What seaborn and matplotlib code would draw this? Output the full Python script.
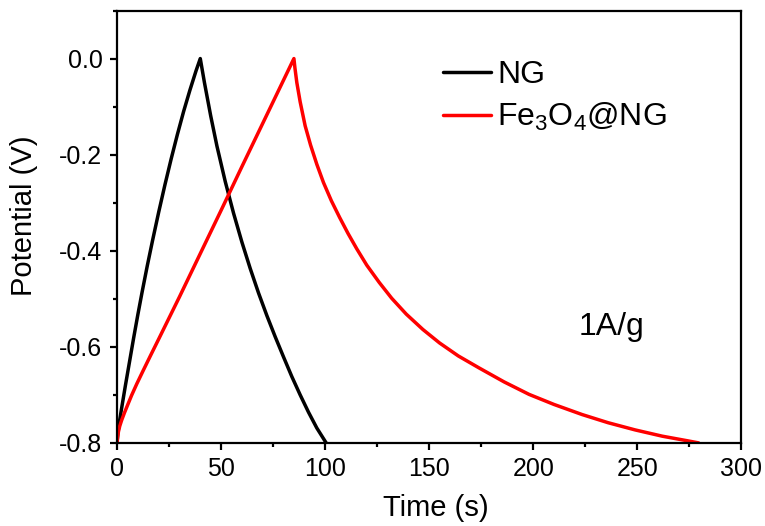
import pandas as pd
import matplotlib.pyplot as plt
import seaborn as sns
from matplotlib.ticker import MultipleLocator

# GCD curves at 1 A/g (charge then discharge)
ng_time = [0, 0.4, 1, 2, 4, 6, 8, 10, 12, 14.5, 17, 20, 23, 26, 29, 32, 35, 38, 40,
           42, 45, 48, 52, 56, 60, 64, 68, 72, 76, 80, 84, 88, 92, 96, 100.5]
ng_potential = [-0.80, -0.78, -0.76, -0.733, -0.681, -0.631, -0.581, -0.533, -0.487, -0.432,
                -0.38, -0.32, -0.263, -0.209, -0.158, -0.11, -0.066, -0.025, 0.0,
                -0.05, -0.119, -0.182, -0.256, -0.322, -0.382, -0.437, -0.488, -0.535, -0.579,
                -0.621, -0.662, -0.700, -0.736, -0.769, -0.800]

fe_time = [0, 0.3, 0.7, 1.3, 2.2, 3.5, 5, 7, 9.5, 12.5, 16, 20, 25, 30, 40, 50, 60, 70, 78, 85,
           85.5, 86.4, 88, 90.4, 93, 96, 99.2, 103, 107, 111, 115.2, 120, 126, 132, 139, 147,
           155, 164, 174, 186, 198, 210, 223.5, 236, 249, 262, 274.6, 279.5]
fe_potential = [-0.80, -0.787, -0.776, -0.765, -0.753, -0.738, -0.722, -0.701, -0.677, -0.650,
                -0.619, -0.584, -0.540, -0.496, -0.406, -0.316, -0.225, -0.135, -0.063, 0.0,
                -0.02, -0.05, -0.09, -0.14, -0.18, -0.22, -0.258, -0.296, -0.331, -0.364,
                -0.396, -0.43, -0.466, -0.499, -0.532, -0.564, -0.592, -0.619, -0.644, -0.673,
                -0.699, -0.720, -0.741, -0.758, -0.773, -0.786, -0.796, -0.80]

series_names = ["NG", "Fe$_3$O$_4$@NG"]
series_colors = ["#000000", "#ff0000"]

df = pd.concat([
    pd.DataFrame({"time": ng_time, "potential": ng_potential, "sample": series_names[0]}),
    pd.DataFrame({"time": fe_time, "potential": fe_potential, "sample": series_names[1]}),
])

sns.set_style("ticks")
plt.rcParams["font.family"] = ["Liberation Sans", "DejaVu Sans"]
plt.rcParams["mathtext.default"] = "regular"
for key in ["text.color", "axes.labelcolor", "xtick.color", "ytick.color", "axes.edgecolor"]:
    plt.rcParams[key] = "black"

fig = plt.figure(figsize=(7.65, 5.26), dpi=100)
ax = fig.add_axes([0.153, 0.158, 0.816, 0.822])

sns.lineplot(data=df, x="time", y="potential", hue="sample", palette=series_colors,
             hue_order=series_names, estimator=None, sort=False, linewidth=2.5, ax=ax)

ax.set_xlim(0, 300)
ax.set_ylim(-0.8, 0.1)
ax.xaxis.set_major_locator(MultipleLocator(50))
ax.xaxis.set_minor_locator(MultipleLocator(25))
ax.yaxis.set_major_locator(MultipleLocator(0.2))
ax.yaxis.set_minor_locator(MultipleLocator(0.1))
ax.yaxis.set_major_formatter(plt.FuncFormatter(lambda v, p: f"{v:.1f}".replace("-0.0", "0.0")))
ax.tick_params(which="major", length=5, width=1.6, labelsize=18, direction="out", pad=5.5)
ax.tick_params(which="minor", length=3, width=1.6, direction="out")
for s in ax.spines.values():
    s.set_linewidth(1.6)

ax.set_xlabel("Time (s)", fontsize=21)
ax.set_ylabel("Potential (V)", fontsize=21)
ax.xaxis.set_label_coords(0.51, -0.119)
ax.yaxis.set_label_coords(-0.127, 0.525)

ax.legend(frameon=False, fontsize=23, loc="upper left", bbox_to_anchor=(0.5224, 0.886),
          borderaxespad=0, borderpad=0, handlelength=1.5, handletextpad=0.19,
          labelspacing=0.36)

ax.text(221.6, -0.5745, "1A/g", fontsize=23, ha="left", va="baseline")

fig.savefig("out.png", dpi=100)
